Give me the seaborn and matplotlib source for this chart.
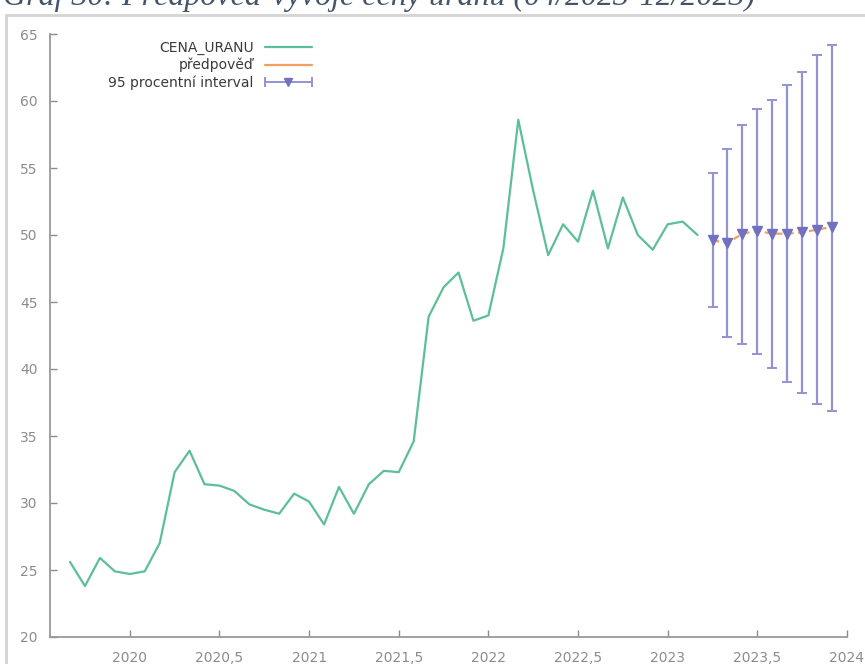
import matplotlib
matplotlib.use("Agg")
import matplotlib.pyplot as plt
from matplotlib.lines import Line2D
from matplotlib.legend_handler import HandlerBase
from matplotlib.container import ErrorbarContainer
import seaborn as sns
import pandas as pd
import numpy as np

# monthly uranium price, 2019:09 - 2023:03
obs_start, obs_end = "2019-09", "2023-03"
cena_uranu = [25.6, 23.8, 25.9, 24.9, 24.7, 24.9, 27.0, 32.3, 33.9, 31.4,
              31.3, 30.9, 29.9, 29.5, 29.2, 30.7, 30.1, 28.4, 31.2, 29.2,
              31.4, 32.4, 32.3, 34.6, 43.9, 46.1, 47.2, 43.6, 44.0, 49.0,
              58.6, 53.3, 48.5, 50.8, 49.5, 53.3, 49.0, 52.8, 50.0, 48.9,
              50.8, 51.0, 50.0]

# forecast 2023:04 - 2023:12 with 95 % interval
fc_start, fc_end = "2023-04", "2023-12"
predpoved = [49.6, 49.4, 50.1, 50.3, 50.1, 50.1, 50.2, 50.4, 50.6]
dolni = [44.6, 42.4, 41.9, 41.1, 40.1, 39.0, 38.2, 37.4, 36.9]
horni = [54.6, 56.4, 58.2, 59.4, 60.1, 61.2, 62.2, 63.4, 64.2]

x_ticks = [2020, 2020.5, 2021, 2021.5, 2022, 2022.5, 2023, 2023.5, 2024]
x_labels = ["2020", "2020,5", "2021", "2021,5", "2022", "2022,5", "2023", "2023,5", "2024"]
y_ticks = [20, 25, 30, 35, 40, 45, 50, 55, 60, 65]


def dec_year(start, end):
    p = pd.period_range(start, end, freq="M")
    return p.year + (p.month - 1) / 12.0


obs = pd.DataFrame({"t": dec_year(obs_start, obs_end), "cena": cena_uranu})
fc = pd.DataFrame({"t": dec_year(fc_start, fc_end), "pred": predpoved,
                   "lo": dolni, "hi": horni})

sns.set_style("ticks")
plt.rcParams["font.family"] = ["DejaVu Sans"]

green = "#5dbf98"
orange = "#f2a062"
purple = "#9393d3"
purple_dark = "#7171c2"
gray = "#8c8c8c"


# |--v--| sample for the interval entry
class HandlerInterval(HandlerBase):
    def create_artists(self, legend, orig_handle, xdescent, ydescent,
                       width, height, fontsize, trans):
        y = height / 2 - ydescent
        x0, x1 = -xdescent, width - xdescent
        line = Line2D([x0, x1], [y, y], color=purple, lw=1.4, transform=trans)
        caps = Line2D([x0, x1], [y, y], ls="none", marker="|", ms=7, mew=1.4,
                      color=purple, transform=trans)
        tri = Line2D([(x0 + x1) / 2], [y], ls="none", marker="v", ms=6,
                     color=purple_dark, transform=trans)
        return [line, caps, tri]


fig = plt.figure(figsize=(8.65, 6.64), dpi=100)
ax = fig.add_axes([50 / 865, 27 / 664, (847 - 50) / 865, (636 - 33) / 664])

sns.lineplot(data=obs, x="t", y="cena", ax=ax, color=green, lw=1.6, legend=False)
sns.lineplot(data=fc, x="t", y="pred", ax=ax, color=orange, lw=1.6,
             linestyle=(0, (3, 2)), legend=False)
eb = ax.errorbar(fc["t"], fc["pred"],
                 yerr=[fc["pred"] - fc["lo"], fc["hi"] - fc["pred"]],
                 fmt="none", ecolor=purple, elinewidth=1.6, capsize=3.5, capthick=1.4)
ax.plot(fc["t"], fc["pred"], ls="none", marker="v", ms=7, color=purple_dark)

ax.set_xlim(2019.555, 2024.0)
ax.set_ylim(20, 65)
ax.set_xticks(x_ticks)
ax.set_xticklabels(x_labels)
ax.set_yticks(y_ticks)
ax.set_xlabel("")
ax.set_ylabel("")
ax.tick_params(direction="in", length=5, width=1, color=gray, labelcolor=gray,
               labelsize=10)
ax.tick_params(axis="x", pad=10)
ax.tick_params(axis="y", pad=9)
for s in ["top", "right"]:
    ax.spines[s].set_visible(False)
for s in ["left", "bottom"]:
    ax.spines[s].set_color("#999999")
    ax.spines[s].set_linewidth(1.3)

# legend, gretl style: text first, then sample
h1 = Line2D([], [], color=green, lw=1.6)
h2 = Line2D([], [], color=orange, lw=1.6)
ax.legend([h1, h2, eb], ["CENA_URANU", "předpověď", "95 procentní interval"],
          handler_map={ErrorbarContainer: HandlerInterval()},
          loc="upper right", bbox_to_anchor=(312 / 865, 1 - 41 / 664),
          bbox_transform=fig.transFigure, frameon=False, markerfirst=False,
          handlelength=3.4, handletextpad=0.8, labelspacing=0.2,
          borderpad=0, borderaxespad=0, prop={"size": 10}, labelcolor="#3a3a3a")

# page frame and cut-off caption of the screenshot
fig.add_artist(Line2D([6 / 865, 1], [1 - 15 / 664] * 2, color="#d4d4d4", lw=2,
                      transform=fig.transFigure))
fig.add_artist(Line2D([6 / 865] * 2, [0, 1 - 15 / 664], color="#d4d4d4", lw=2,
                      transform=fig.transFigure))
fig.text(0.004, 1 - 5 / 664, "Graf 30: Předpověď vývoje ceny uranu (04/2023-12/2023)",
         family="Liberation Serif", style="italic", fontsize=23, color="#44546a",
         va="baseline", ha="left")

fig.savefig("out.png", dpi=100)
